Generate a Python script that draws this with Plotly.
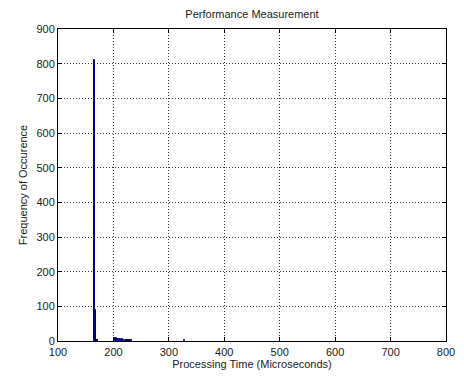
import plotly.graph_objects as go

# Histogram bins (processing time, microseconds) and counts
bin_centers = [165, 167, 168, 169, 170, 171, 172, 203, 205, 207, 209, 211, 213, 215, 217,
               219, 221, 223, 225, 227, 229, 231, 233, 329]
counts = [810, 90, 6, 4, 3, 2, 2, 10, 8, 6, 7, 5, 6, 4, 5,
          3, 4, 3, 4, 3, 2, 3, 2, 2]

x_ticks = [100, 200, 300, 400, 500, 600, 700, 800]
y_ticks = [0, 100, 200, 300, 400, 500, 600, 700, 800, 900]

fig = go.Figure()
fig.add_trace(go.Bar(
    x=bin_centers, y=counts, width=1.8,
    marker=dict(color="#000080", line=dict(color="#000080", width=1)),
))

font = dict(family="Liberation Sans, Arial, sans-serif", size=11, color="#222")
axis_common = dict(
    showgrid=True, gridcolor="#333", griddash="1px,2px", gridwidth=1,
    showline=True, linecolor="black", linewidth=1, mirror="ticks",
    ticks="inside", ticklen=4, tickcolor="black", zeroline=False,
    tickfont=font, ticklabeloverflow="allow",
)
fig.update_layout(
    width=464, height=376,
    margin=dict(l=58, r=9, t=29, b=34),
    paper_bgcolor="white", plot_bgcolor="white",
    showlegend=False, bargap=0,
    font=font,
    title=dict(text="Performance Measurement", x=0.5, xref="paper", xanchor="center",
               y=1 - 14 / 376, yanchor="middle", font=dict(size=11, color="#222",
               family="Liberation Sans, Arial, sans-serif")),
    xaxis=dict(range=[100, 800], tickvals=x_ticks, ticklabelstandoff=1,
               title=dict(text="Processing Time (Microseconds)", standoff=1, font=font),
               **axis_common),
    yaxis=dict(range=[0, 900], tickvals=y_ticks,
               title=dict(text="Frequency of Occurence", standoff=6, font=font),
               **axis_common),
)
fig.write_html("out.html")
